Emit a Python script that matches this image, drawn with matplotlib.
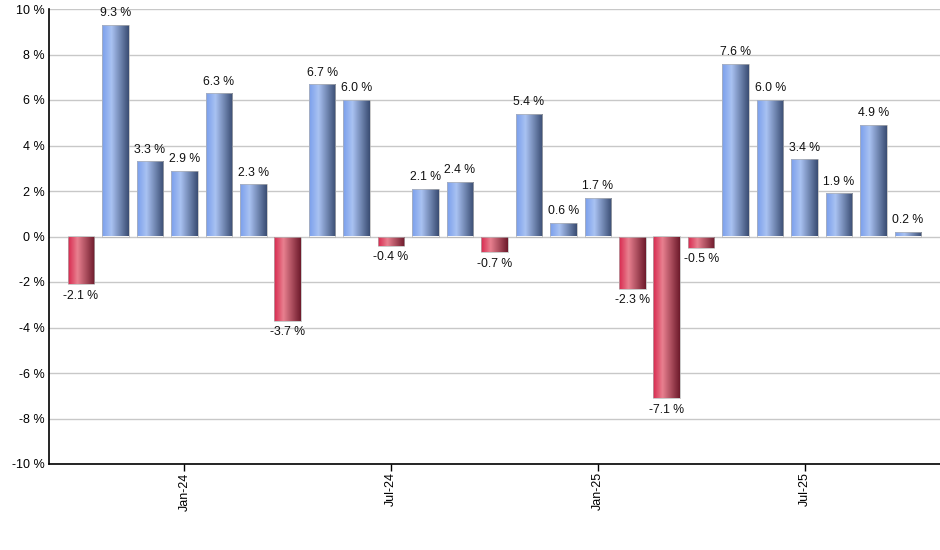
import matplotlib
matplotlib.use("Agg")
import matplotlib.pyplot as plt
import numpy as np
from matplotlib.colors import LinearSegmentedColormap
from matplotlib.patches import Rectangle

months = ["Oct-23", "Nov-23", "Dec-23", "Jan-24", "Feb-24", "Mar-24", "Apr-24", "May-24",
          "Jun-24", "Jul-24", "Aug-24", "Sep-24", "Oct-24", "Nov-24", "Dec-24", "Jan-25",
          "Feb-25", "Mar-25", "Apr-25", "May-25", "Jun-25", "Jul-25", "Aug-25", "Sep-25", "Oct-25"]
returns = [-2.1, 9.3, 3.3, 2.9, 6.3, 2.3, -3.7, 6.7, 6.0, -0.4, 2.1, 2.4, -0.7, 5.4, 0.6, 1.7,
           -2.3, -7.1, -0.5, 7.6, 6.0, 3.4, 1.9, 4.9, 0.2]
tick_labels = ["Jan-24", "Jul-24", "Jan-25", "Jul-25"]
yticks = [-10, -8, -6, -4, -2, 0, 2, 4, 6, 8, 10]

plt.rcParams['font.family'] = ['Liberation Sans', 'DejaVu Sans']

fig = plt.figure(figsize=(9.4, 5.5), dpi=100)
ax = fig.add_axes([49/940, 1-464/550, 891/940, 455/550])

blue_cmap = LinearSegmentedColormap.from_list("b", [(0, "#7a9fec"), (0.35, "#a9c2f2"), (1.0, "#3a4d73")])
red_cmap = LinearSegmentedColormap.from_list("r", [(0, "#d8294f"), (0.35, "#e8808f"), (1.0, "#6e1b2c")])
grad = np.linspace(0, 1, 64).reshape(1, -1)

x = np.arange(len(returns))
w = 0.77
bars = ax.bar(x, returns, width=w, color="none", edgecolor="none", zorder=3)
for xi, v, b in zip(x, returns, bars):
    cmap = blue_cmap if v >= 0 else red_cmap
    lo, hi = min(0, v), max(0, v)
    im = ax.imshow(grad, cmap=cmap, aspect="auto", extent=[xi - w/2, xi + w/2, lo, hi],
                   zorder=3, interpolation="bilinear")
    im.set_clip_path(b)
    ax.add_patch(Rectangle((xi - w/2, lo), w, hi - lo, fill=False, edgecolor="#b4b4b4",
                           linewidth=0.5, zorder=4))
    if v >= 0:
        ax.annotate(f"{v:.1f} %", (xi, v), xytext=(0, 4), textcoords="offset points",
                    ha="center", va="bottom", fontsize=8.8, color="#111111", zorder=5)
    else:
        ax.annotate(f"{v:.1f} %", (xi, v), xytext=(0, -4), textcoords="offset points",
                    ha="center", va="top", fontsize=8.8, color="#111111", zorder=5)

ax.set_xlim(-0.929, 24.93)
ax.set_ylim(-10, 10)
ax.set_yticks(yticks)
ax.set_yticklabels([f"{t} %" for t in yticks], fontsize=9)
ax.tick_params(axis="y", length=0, pad=3)
tick_pos = [months.index(t) for t in tick_labels]
ax.set_xticks(tick_pos)
ax.set_xticklabels(tick_labels, rotation=90, fontsize=9)
ax.tick_params(axis="x", length=5, width=1, direction="out", pad=1)
ax.grid(axis="y", color="#c8c8c8", linewidth=1, zorder=0)
ax.set_axisbelow(True)
for s in ["top", "right"]:
    ax.spines[s].set_visible(False)
for s in ["left", "bottom"]:
    ax.spines[s].set_color("black")
    ax.spines[s].set_linewidth(1.2)

fig.savefig("out.png", dpi=100)
